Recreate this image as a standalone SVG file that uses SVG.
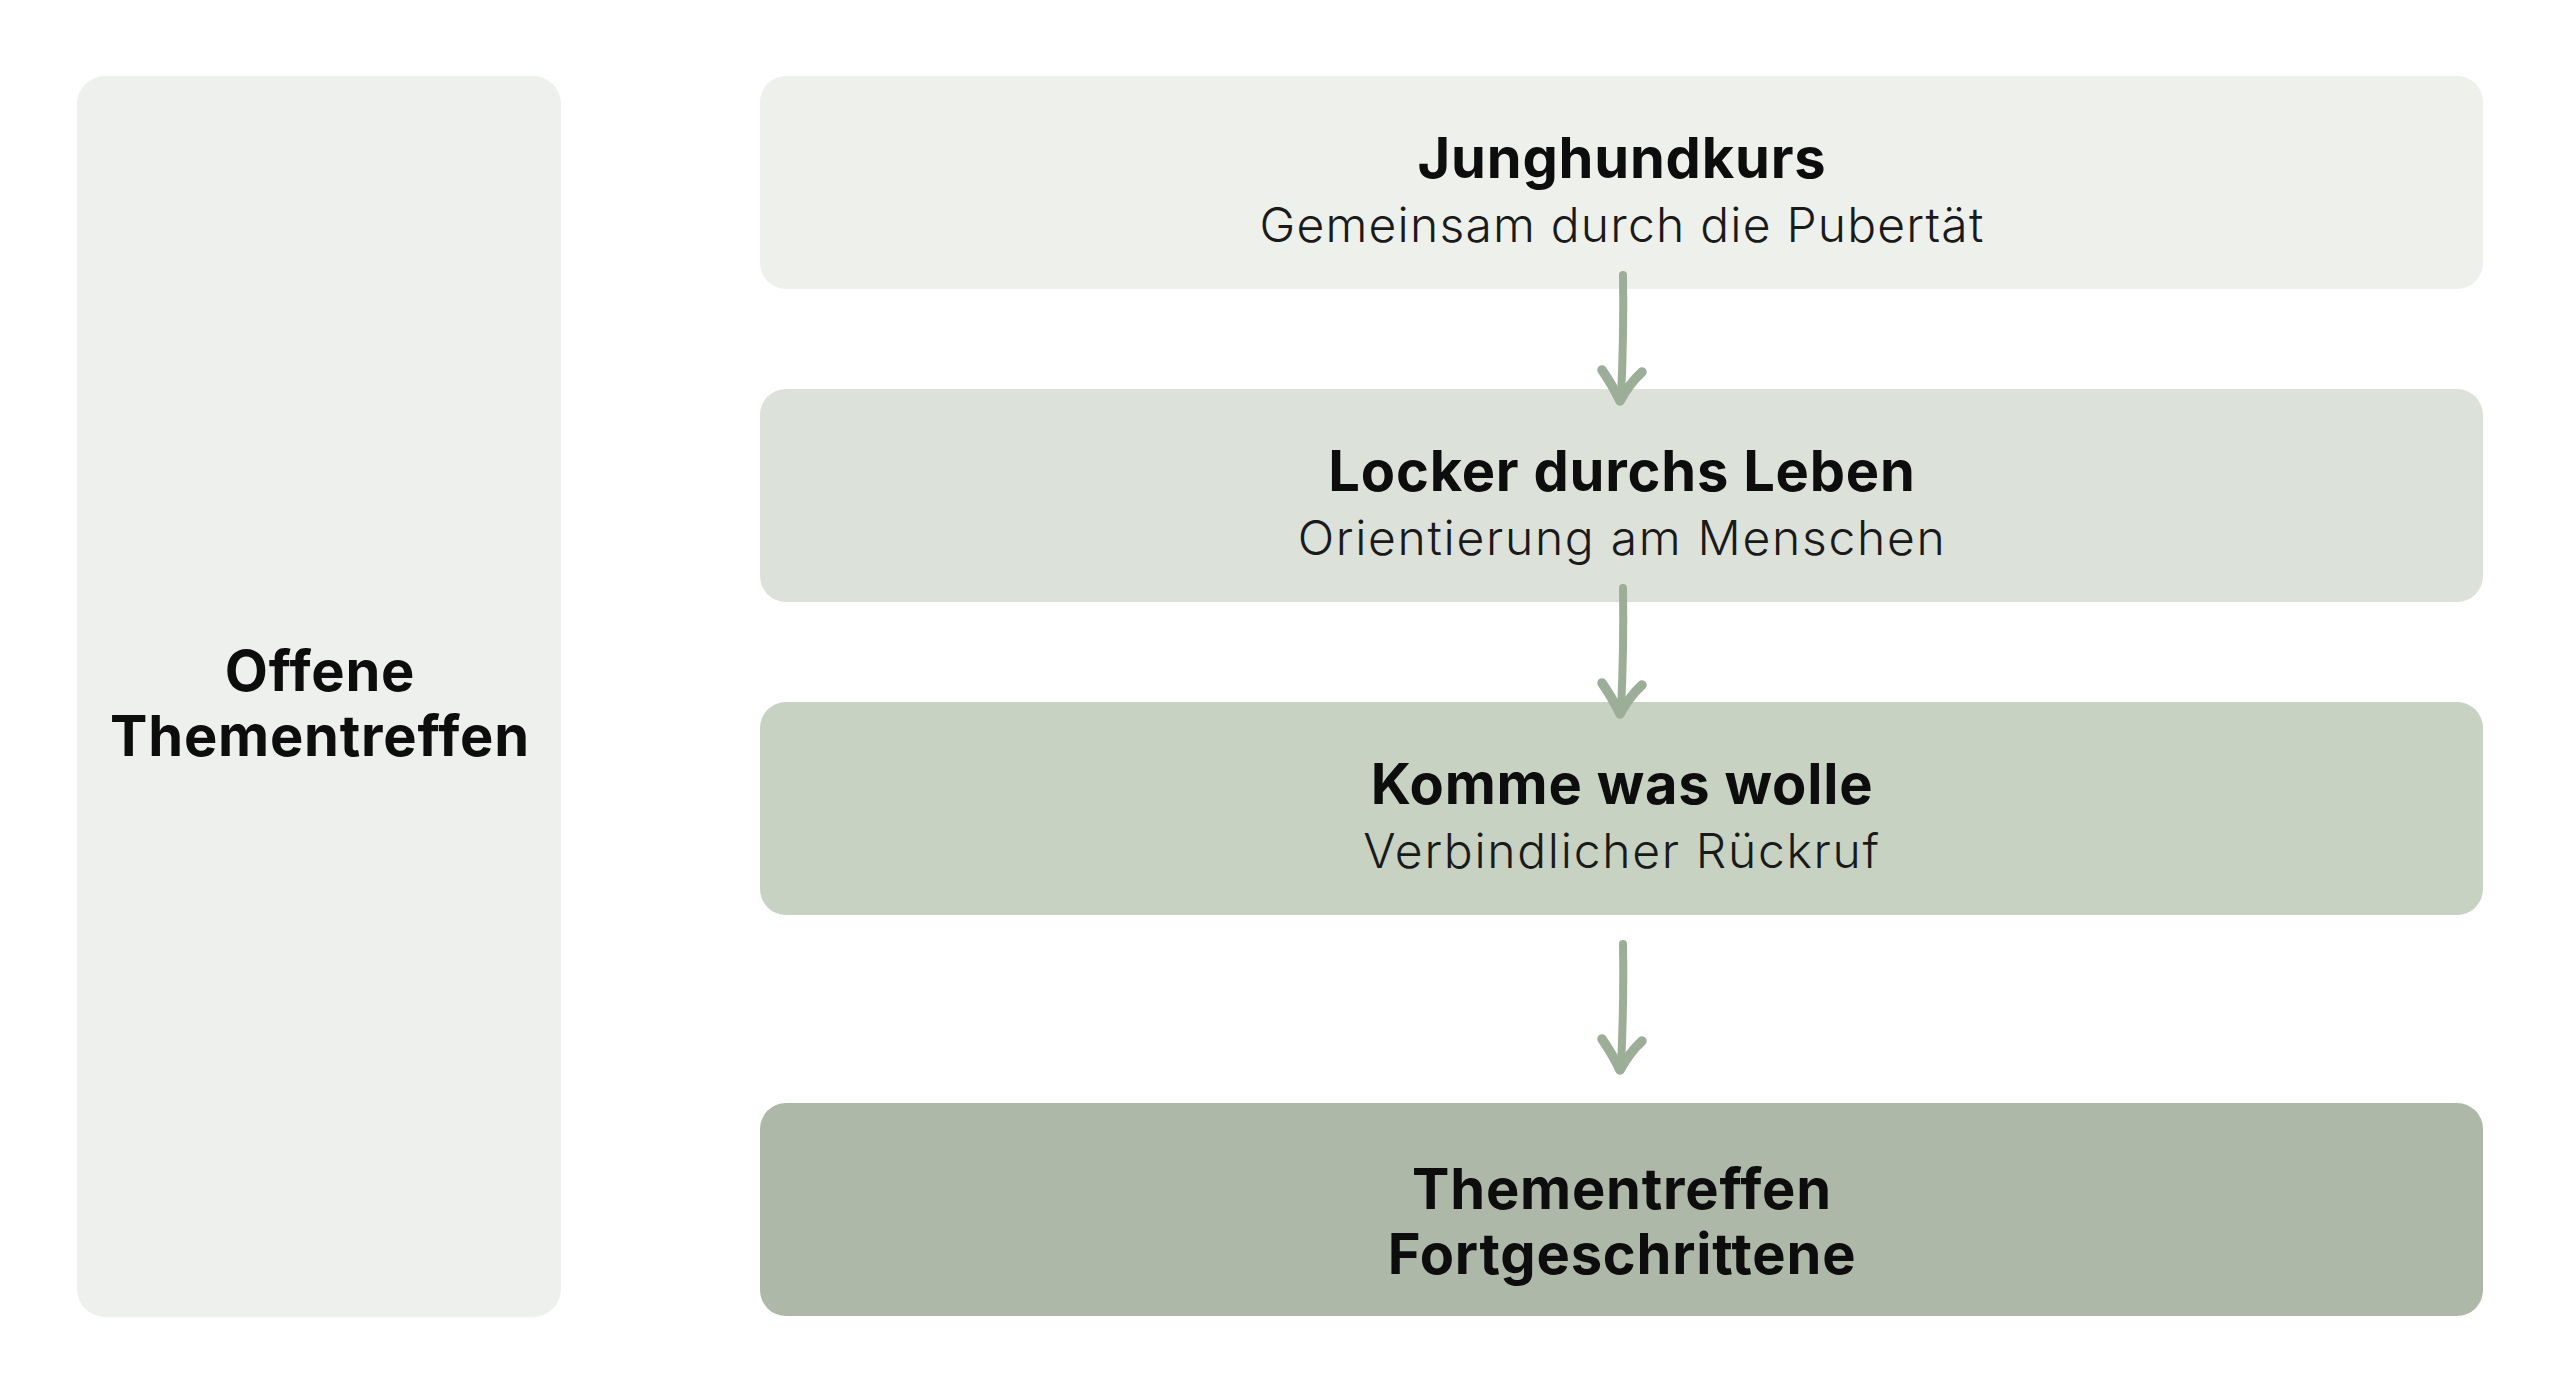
<svg xmlns="http://www.w3.org/2000/svg" width="2560" height="1400" viewBox="0 0 2560 1400">
  <style>
    .title { font-family: Inter, "Noto Sans", "Liberation Sans", sans-serif; font-weight: 700; font-size: 56px; letter-spacing: 0.8px; fill: #0d0d0d; text-anchor: middle; }
    .sub { font-family: Inter, "Noto Sans", "Liberation Sans", sans-serif; font-weight: 300; font-size: 48px; letter-spacing: 1.7px; fill: #1a1a1a; text-anchor: middle; }
    .sub.tight { letter-spacing: 1.2px; }
    .shaft { fill: none; stroke: #9dae98; stroke-width: 8; stroke-linecap: round; }
    .head { fill: none; stroke: #9dae98; stroke-width: 9.5; stroke-linecap: round; stroke-linejoin: round; }
  </style>
  <defs>
    <g id="arrow">
      <path class="shaft" d="M 3 -129 Q 4 -70 1 -6"/>
      <path class="head" d="M -18 -34 Q -7 -18 0 -3 Q 9 -20 22 -32"/>
    </g>
  </defs>
  <rect width="2560" height="1400" fill="#ffffff"/>

  <g id="offene-thementreffen">
    <rect x="77" y="76" width="484" height="1241" rx="28" fill="#edf0ec"/>
    <text class="title" x="320" y="691">Offene</text>
    <text class="title" x="320" y="756">Thementreffen</text>
  </g>

  <g id="junghundkurs">
    <rect x="760" y="76" width="1723" height="213" rx="26" fill="#eef0ec"/>
    <text class="title" x="1622" y="178">Junghundkurs</text>
    <text class="sub tight" x="1622" y="242">Gemeinsam durch die Pubertät</text>
  </g>

  <g id="locker-durchs-leben">
    <rect x="760" y="389" width="1723" height="213" rx="26" fill="#dce1d9"/>
    <text class="title" x="1622" y="491">Locker durchs Leben</text>
    <text class="sub" x="1622" y="555">Orientierung am Menschen</text>
  </g>

  <g id="komme-was-wolle">
    <rect x="760" y="702" width="1723" height="213" rx="26" fill="#c8d2c3"/>
    <text class="title" x="1622" y="804">Komme was wolle</text>
    <text class="sub" x="1622" y="868">Verbindlicher Rückruf</text>
  </g>

  <g id="thementreffen-fortgeschrittene">
    <rect x="760" y="1103" width="1723" height="213" rx="26" fill="#adb8a8"/>
    <text class="title" x="1622" y="1209">Thementreffen</text>
    <text class="title" x="1622" y="1274">Fortgeschrittene</text>
  </g>

  <g id="connectors">
    <use href="#arrow" transform="translate(1620 404)"/>
    <use href="#arrow" transform="translate(1620 717)"/>
    <use href="#arrow" transform="translate(1620 1073)"/>
  </g>
</svg>
